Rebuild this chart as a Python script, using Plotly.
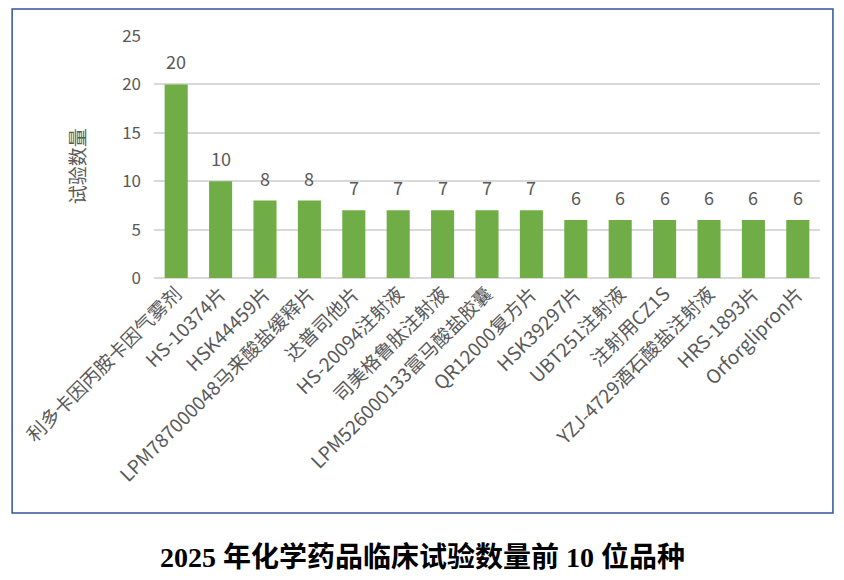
import plotly.graph_objects as go

# Data
drugs = [
    '利多卡因丙胺卡因气雾剂', 'HS-10374片', 'HSK44459片', 'LPM787000048马来酸盐缓释片',
    '达普司他片', 'HS-20094注射液', '司美格鲁肽注射液', 'LPM526000133富马酸盐胶囊',
    'QR12000复方片', 'HSK39297片', 'UBT251注射液', '注射用CZ1S',
    'YZJ-4729酒石酸盐注射液', 'HRS-1893片', 'Orforglipron片',
]
trials = [20, 10, 8, 8, 7, 7, 7, 7, 7, 6, 6, 6, 6, 6, 6]
y_ticks = [0, 5, 10, 15, 20, 25]

gray = '#595959'
sans = 'Noto Sans CJK SC, Noto Sans, sans-serif'

fig = go.Figure()
fig.add_trace(go.Bar(
    x=drugs,
    y=trials,
    marker=dict(color='#70AD47', line=dict(width=0)),
    width=0.52,
))

# page has an 8px body margin, so work in figure coords (screen - 8)
W, H = 836, 572
L, T = 143, 28            # plot area x 143..812, y 28..270
R, B = W - 812, H - 270
pw, ph = W - L - R, H - T - B


def px(x):
    return (x - L) / pw


def py(y):
    return (H - B - y) / ph


# value labels sit a little above each bar
labels = [dict(x=d, y=v, text=str(v), xref='x', yref='y', showarrow=False,
               yanchor='bottom', yshift=8,
               font=dict(size=18, color=gray, family=sans))
          for d, v in zip(drugs, trials)]

fig.update_layout(
    width=W, height=H,
    margin=dict(l=L, r=R, t=T, b=B),
    paper_bgcolor='white',
    plot_bgcolor='white',
    showlegend=False,
    font=dict(family=sans, color=gray),
    xaxis=dict(
        tickangle=-45,
        tickfont=dict(size=19, color=gray, family=sans),
        showgrid=False,
        showline=False,
        ticks='',
    ),
    yaxis=dict(
        range=[0, 25],
        tickvals=y_ticks,
        tickfont=dict(size=17, color=gray, family=sans),
        gridcolor='#D9D9D9',
        gridwidth=1.5,
        zeroline=True,
        zerolinecolor='#D9D9D9',
        zerolinewidth=1.5,
        ticks='',
        ticklabelstandoff=12,
    ),
    shapes=[dict(
        type='rect', xref='paper', yref='paper',
        x0=px(0.5), x1=px(825), y0=py(505), y1=py(1),
        line=dict(color='#2F5597', width=1.5),
        fillcolor='rgba(0,0,0,0)', layer='below',
    )],
    annotations=labels + [
        dict(
            text='试验数量', xref='paper', yref='paper',
            x=px(65), y=py(158), textangle=-90, showarrow=False,
            xanchor='center', yanchor='middle',
            font=dict(size=19, color=gray, family=sans),
        ),
        dict(
            text='<b>2025 年化学药品临床试验数量前 10 位品种</b>',
            xref='paper', yref='paper',
            x=px(413), y=py(549), showarrow=False,
            xanchor='center', yanchor='middle',
            font=dict(size=28, color='black',
                      family='Liberation Serif, Noto Sans CJK SC, serif'),
        ),
    ],
)

fig.write_html('out.html')
